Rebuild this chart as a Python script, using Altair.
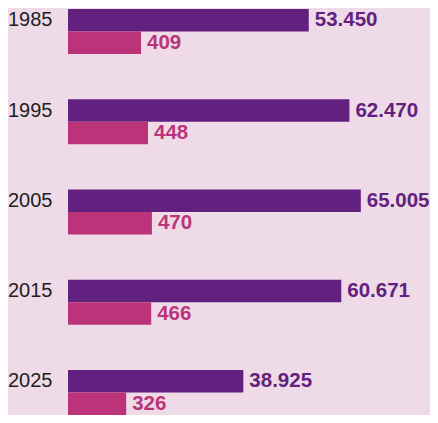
import altair as alt
import pandas as pd

years = ["1985", "1995", "2005", "2015", "2025"]
series_a = [53450, 62470, 65005, 60671, 38925]
series_b = [409, 448, 470, 466, 326]

BG = "#EFDBE8"
PURPLE = "#63217F"
PINK = "#BB3479"


def de(v):
    return f"{v:,}".replace(",", ".")


rows = []
for y, a, b in zip(years, series_a, series_b):
    rows.append({"year": y, "series": "A", "value": a, "label": de(a)})
    rows.append({"year": y, "series": "B", "value": b, "label": de(b)})
df = pd.DataFrame(rows)

LEFT = 60
TOTAL_W, TOTAL_H = 422, 407
W = TOTAL_W - LEFT
H = TOTAL_H
step = 90.25
group = 45
pi = 1 - group / step
po = 1 / step
RANGE_H = step * (5 - pi + 2 * po)
DA = W * 222
DB = W * 5.6

y_enc = alt.Y("year:N", sort=years, axis=None,
              scale=alt.Scale(paddingInner=pi, paddingOuter=po, round=False,
                              range=[0, RANGE_H]))
yo_enc = alt.YOffset("series:N", scale=alt.Scale(domain=["A", "B"], paddingInner=0,
                                                 paddingOuter=0, round=False))

base = alt.Chart(df)
xa = alt.X("value:Q", axis=None, scale=alt.Scale(domain=[0, DA], nice=False, zero=True))
xb = alt.X("value:Q", axis=None, scale=alt.Scale(domain=[0, DB], nice=False, zero=True))

bars_a = base.transform_filter(alt.datum.series == "A").mark_bar(color=PURPLE).encode(
    x=xa, y=y_enc, yOffset=yo_enc)
text_a = base.transform_filter(alt.datum.series == "A").mark_text(
    color=PURPLE, align="left", baseline="middle", dx=6, fontSize=20.5,
    fontWeight="bold", font="Liberation Sans").encode(
    x=xa, y=y_enc, yOffset=yo_enc, text="label:N")

bars_b = base.transform_filter(alt.datum.series == "B").mark_bar(color=PINK).encode(
    x=xb, y=y_enc, yOffset=yo_enc)
text_b = base.transform_filter(alt.datum.series == "B").mark_text(
    color=PINK, align="left", baseline="middle", dx=6, fontSize=20.5,
    fontWeight="bold", font="Liberation Sans").encode(
    x=xb, y=y_enc, yOffset=yo_enc, text="label:N")

year_text = base.transform_filter(alt.datum.series == "A").mark_text(
    color="#1E1E1E", align="left", baseline="middle", fontSize=20,
    font="Liberation Sans").encode(
    x=alt.value(-60), y=y_enc, yOffset=yo_enc, text="year:N")

chart = alt.layer(
    alt.layer(bars_a, text_a),
    alt.layer(bars_b, text_b),
    year_text,
).resolve_scale(x="independent").properties(
    width=W, height=H,
    autosize=alt.AutoSizeParams(type="none"),
    padding={"left": LEFT, "top": 0, "right": 0, "bottom": 0},
    background=BG,
).configure_view(stroke=None)

chart.save("out.html", embed_options={"renderer": "svg", "actions": False})
